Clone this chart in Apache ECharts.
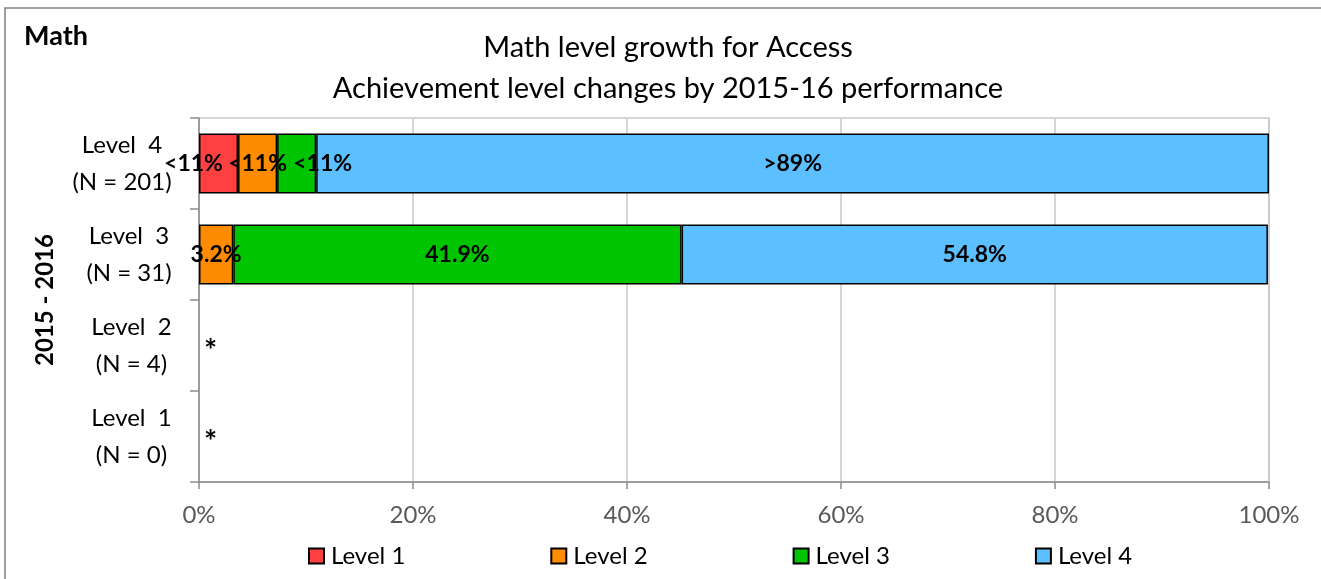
<!DOCTYPE html>
<html>
<head>
<meta charset="utf-8">
<script src="https://cdn.jsdelivr.net/npm/echarts@6/dist/echarts.min.js"></script>
<style>html,body{margin:0;padding:0;background:#fff}#c{width:1321px;height:579px}</style>
</head>
<body>
<div id="c"></div>
<script>
var categoryLevels = ['Level  1', 'Level  2', 'Level  3', 'Level  4'];
var categoryCounts = ['(N = 0)', '(N = 4)', '(N = 31)', '(N = 201)'];
var seriesNames = ['Level 1', 'Level 2', 'Level 3', 'Level 4'];
var level1 = [0, 0, 0, 3.65];
var level2 = [0, 0, 3.2, 3.65];
var level3 = [0, 0, 41.9, 3.65];
var level4 = [0, 0, 54.8, 89.05];
var labels1 = ['*', '*', '', '<11%'];
var labels2 = ['', '', '3.2%', '<11%'];
var labels3 = ['', '', '41.9%', '<11%'];
var labels4 = ['', '', '54.8%', '>89%'];
var xTicks = [0, 20, 40, 60, 80, 100];
var colors = ['#FF4040', '#FF8C00', '#00C400', '#5CBFFF'];

var FONT = 'Lato, "Open Sans", sans-serif';
var allValues = [level1, level2, level3, level4];
var allLabels = [labels1, labels2, labels3, labels4];
var categories = categoryLevels.map(function (l, i) { return l + '\n' + categoryCounts[i]; });

// label shifts (style only) to mimic the overlap-avoidance in the original
var labelShift = { '0-3': [-25, 0], '2-3': [26, 0] };

// measure label blocks so each two-line label is centred within its own block
var ctx = document.createElement('canvas').getContext('2d');
ctx.font = '24px ' + FONT;
var blockW = categories.map(function (c, i) {
  return Math.ceil(Math.max(ctx.measureText(categoryLevels[i]).width, ctx.measureText(categoryCounts[i]).width));
});
var yRich = {};
blockW.forEach(function (w, i) {
  yRich['c' + i] = { width: w, align: 'center', fontFamily: FONT, fontSize: 24, color: '#000', lineHeight: 37 };
});

function buildData(vals, labs, k) {
  return vals.map(function (v, i) {
    if (v === 0) {
      if (labs[i]) {
        return { value: 0, itemStyle: { borderWidth: 0 }, label: { position: 'right', distance: 5, fontSize: 31, offset: [0, 5] } };
      }
      return { value: null };
    }
    var d = { value: v };
    var sh = labelShift[k + '-' + i];
    if (sh) d.label = { offset: sh };
    return d;
  });
}

var series = seriesNames.map(function (name, k) {
  var labs = allLabels[k];
  return {
    name: name,
    type: 'bar',
    stack: 'total',
    barCategoryGap: '34%',
    data: buildData(allValues[k], labs, k),
    itemStyle: { color: colors[k], borderColor: '#000', borderWidth: 1.5 },
    label: {
      show: true,
      position: 'inside',
      color: '#000',
      fontFamily: FONT,
      fontWeight: 'bold',
      fontSize: 23,
      formatter: function (p) { return labs[p.dataIndex]; }
    },
    emphasis: { disabled: true }
  };
});

var chart = echarts.init(document.getElementById('c'), null, { renderer: 'canvas' });
chart.setOption({
  animation: false,
  backgroundColor: '#fff',
  graphic: [
    { type: 'rect', shape: { x: 5, y: 8, width: 1400, height: 700 }, style: { fill: 'none', stroke: '#808080', lineWidth: 1.5 }, z: -10 },
    { type: 'text', left: 24, top: 23, style: { text: 'Math', font: 'bold 27px ' + FONT, fill: '#000' } }
  ],
  title: {
    text: 'Math level growth for Access\nAchievement level changes by 2015-16 performance',
    left: 663,
    textAlign: 'center',
    top: 22,
    textStyle: { fontFamily: FONT, fontSize: 29, fontWeight: 'normal', color: '#000', lineHeight: 41 }
  },
  legend: {
    data: seriesNames,
    left: 303,
    top: 539,
    icon: 'rect',
    itemWidth: 15,
    itemHeight: 15,
    itemGap: 145,
    textStyle: { fontFamily: FONT, fontSize: 24, color: '#000', padding: [0, 0, 0, 2] }
  },
  grid: {
    left: 199, right: 52, top: 118, bottom: 97,
    show: true, borderColor: '#c8c8c8', borderWidth: 1.5, backgroundColor: 'transparent'
  },
  xAxis: {
    type: 'value',
    min: 0, max: 100, interval: 20,
    axisLine: { show: true, lineStyle: { color: '#8c8c8c', width: 1.5 } },
    axisTick: { show: true, length: 7, lineStyle: { color: '#8c8c8c', width: 1.5 } },
    splitLine: { show: true, lineStyle: { color: '#c8c8c8', width: 1.5 } },
    axisLabel: {
      margin: 21,
      color: '#595959',
      fontFamily: FONT,
      fontSize: 24,
      customValues: xTicks,
      formatter: function (v) { return v + '%'; }
    }
  },
  yAxis: {
    type: 'category',
    data: categories,
    name: '2015 - 2016',
    nameLocation: 'middle',
    nameGap: 142,
    nameRotate: 90,
    nameTextStyle: { fontFamily: FONT, fontWeight: 'bold', fontSize: 24, color: '#000' },
    axisLine: { show: true, lineStyle: { color: '#8c8c8c', width: 1.5 } },
    axisTick: { show: true, length: 9, lineStyle: { color: '#8c8c8c', width: 1.5 } },
    axisLabel: {
      align: 'right',
      margin: 27,
      color: '#000',
      fontFamily: FONT,
      fontSize: 24,
      lineHeight: 37,
      rich: yRich,
      formatter: function (v, i) {
        return '{c' + i + '|' + categoryLevels[i] + '}\n{c' + i + '|' + categoryCounts[i] + '}';
      }
    }
  },
  series: series
});
</script>
</body>
</html>
